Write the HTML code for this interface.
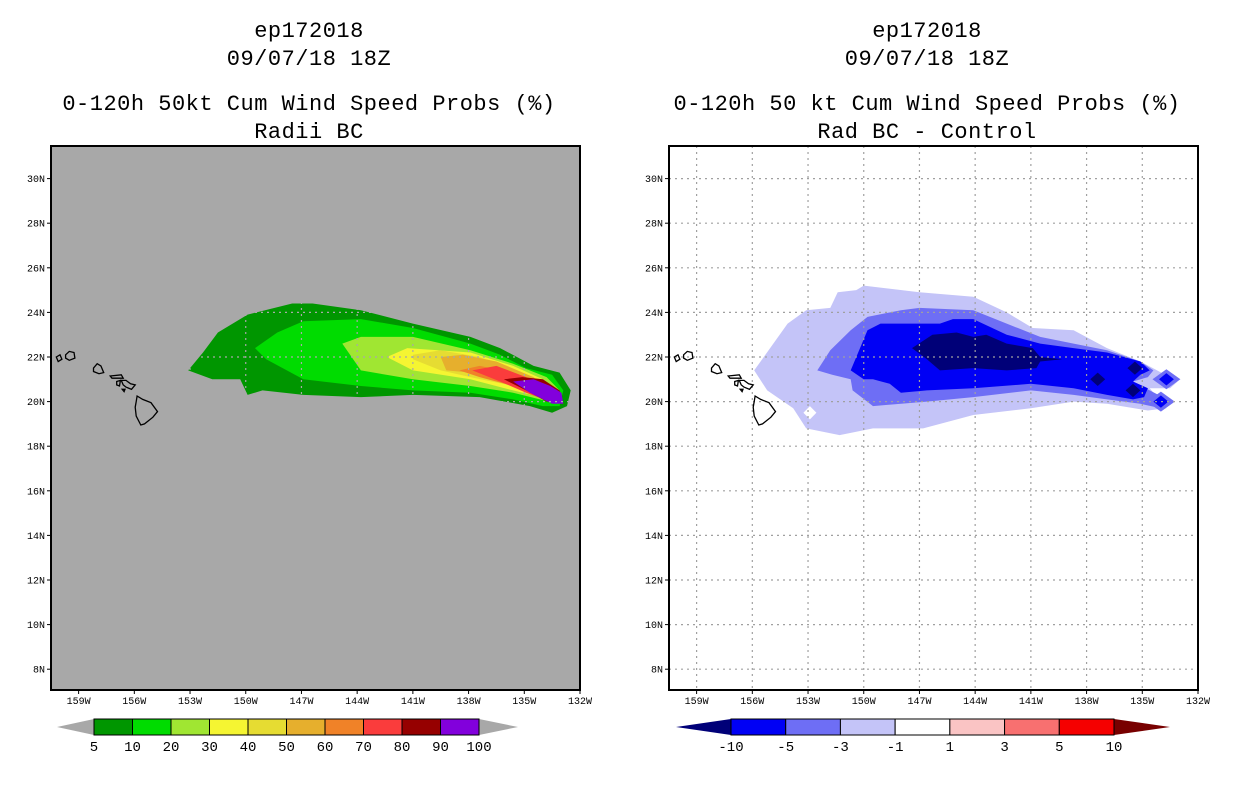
<!DOCTYPE html>
<html><head><meta charset="utf-8"><style>
body{margin:0;background:#fff;width:1236px;height:800px;overflow:hidden}
svg{position:absolute;left:0;top:0}
text{font-family:"Liberation Mono",monospace}
</style></head><body>
<svg id="s" width="1236" height="800" xmlns="http://www.w3.org/2000/svg"></svg>
<script>
// ---- data: contour polygons [lonW, latN] ----
const leftLevels = ["5","10","20","30","40","50","60","70","80","90"];
const leftColors = ["#009600","#00dc00","#a0e632","#f5f532","#e6dc32","#e6af2d","#f08228","#fa3c3c","#960000","#8200dc"];
const left5 = [[153.1,21.4],[152.3,22.2],[151.5,23.1],[149.9,23.9],[147.5,24.4],[146.4,24.4],[143.8,24.1],[141.0,23.5],[137.9,22.9],[136.3,22.4],[134.5,21.6],[133.1,21.3],[132.5,20.5],[132.7,19.8],[133.5,19.5],[134.7,19.8],[137.4,20.2],[141.0,20.3],[143.8,20.2],[146.9,20.3],[149.1,20.5],[149.9,20.3],[150.3,21.0],[151.8,21.0]];
const left10 = [[149.5,22.4],[148.3,23.1],[146.9,23.6],[143.8,23.7],[141.0,23.3],[137.9,22.6],[136.3,22.1],[134.9,21.5],[133.5,21.2],[132.9,20.5],[133.1,19.8],[134.0,19.8],[135.6,20.1],[137.9,20.4],[141.0,20.5],[143.8,20.7],[146.9,21.0],[148.9,21.9]];
const left20 = [[144.8,22.6],[143.8,22.9],[141.0,22.9],[137.9,22.3],[135.6,21.7],[133.8,21.1],[133.1,20.5],[133.2,19.9],[135.6,20.4],[137.9,20.7],[141.0,21.0],[143.8,21.4]];
const left30 = [[142.4,22.0],[141.3,22.4],[137.9,22.2],[135.6,21.6],[134.0,21.0],[133.2,20.4],[133.6,20.1],[135.6,20.5],[137.9,21.0],[141.0,21.4]];
const left40 = [[141.0,22.1],[139.5,22.3],[137.4,22.0],[135.6,21.4],[133.8,20.8],[133.5,20.2],[135.6,20.7],[137.9,21.1],[139.5,21.4],[141.0,21.9]];
const left50 = [[139.5,22.0],[138.3,22.1],[136.5,21.8],[134.5,21.1],[133.6,20.4],[135.6,20.7],[137.9,21.3],[139.2,21.4]];
const left60 = [[138.5,21.4],[137.4,21.6],[135.6,21.3],[134.2,20.8],[133.6,20.2],[135.6,20.7],[137.4,21.1]];
const left70 = [[137.8,21.4],[136.5,21.6],[134.9,21.1],[134.0,20.7],[133.6,20.0],[134.9,20.4],[136.3,20.9]];
const left80 = [[136.1,21.0],[135.1,21.1],[134.0,21.0],[133.1,20.5],[132.9,19.9],[133.8,20.0],[134.9,20.5]];
const left90 = [[135.6,20.9],[134.5,21.0],[133.6,20.7],[133.0,20.4],[132.9,19.9],[133.5,19.9],[134.7,20.4]];

const rightLevels = ["-10","-5","-3","-1","1","3","5","10"];
const rightColors = ["#000078","#0000f5","#6e6ef5","#c4c4f8","#ffffff","#fac4c4","#f87070","#f50000","#780000"];
const rightM1 = [[155.9,21.4],[154.1,23.5],[153.1,24.1],[151.8,24.2],[151.4,24.9],[150.4,25.0],[150.0,25.2],[147.0,24.9],[144.1,24.7],[142.3,24.0],[140.9,23.3],[138.7,23.2],[136.9,22.4],[135.1,21.8],[134.2,21.4],[133.1,20.9],[133.5,20.6],[134.6,20.6],[133.7,19.7],[134.7,19.6],[136.9,19.9],[138.7,20.0],[141.0,19.7],[144.1,19.4],[146.8,18.8],[149.5,18.8],[151.3,18.5],[153.1,18.8],[153.8,19.7],[155.2,20.5]];
const rightM3 = [[152.5,21.4],[151.8,22.3],[150.7,23.2],[149.8,23.8],[148.0,24.1],[147.0,24.2],[144.1,24.1],[142.3,23.5],[140.5,22.9],[138.7,22.6],[136.9,22.3],[135.1,21.8],[134.4,21.4],[134.7,21.1],[135.5,20.9],[134.6,20.5],[133.9,20.2],[133.7,19.9],[134.0,19.7],[135.1,19.9],[136.9,20.1],[138.7,20.3],[141.0,20.5],[144.1,20.2],[146.6,20.0],[149.5,19.8],[150.6,20.5],[150.7,21.0],[151.7,21.2]];
const rightM5 = [[150.7,21.4],[149.8,23.2],[149.1,23.5],[147.0,23.5],[145.9,23.5],[145.2,23.7],[144.1,23.7],[142.3,23.0],[140.5,22.6],[138.7,22.4],[136.9,22.2],[135.1,21.8],[134.6,21.4],[135.1,21.2],[135.5,20.9],[134.7,20.6],[134.9,20.2],[135.5,20.1],[136.9,20.3],[138.7,20.6],[141.0,20.8],[144.1,20.6],[146.6,20.5],[148.0,20.4],[148.6,20.8],[149.5,21.0],[150.0,21.0]];
const rightM10 = [[147.4,22.4],[146.3,23.0],[145.0,23.1],[144.1,22.9],[143.4,23.0],[142.3,22.6],[140.9,22.4],[140.5,22.0],[139.3,21.9],[140.5,21.8],[140.7,21.5],[142.3,21.4],[144.1,21.5],[145.9,21.4],[146.6,21.9]];
const rightM5Spots = [[133.7,21.0],[134.0,20.0]];
const rightM10Spots = [[135.4,21.5],[137.4,21.0],[135.5,20.5]];
const rightHole = [[152.9,19.5]];

const islands = [
 [[160.2,22.0],[160.0,22.1],[159.9,21.9],[160.1,21.8]],
 [[159.7,22.1],[159.5,22.25],[159.25,22.2],[159.2,21.95],[159.5,21.85],[159.7,21.95]],
 [[158.2,21.5],[158.0,21.7],[157.8,21.6],[157.65,21.3],[157.9,21.25],[158.2,21.35]],
 [[157.3,21.15],[156.7,21.2],[156.6,21.05],[157.2,21.05]],
 [[156.95,20.9],[156.75,20.95],[156.8,20.7],[156.95,20.75]],
 [[156.7,20.95],[156.45,20.95],[156.2,20.8],[155.95,20.75],[156.15,20.55],[156.45,20.65],[156.6,20.75]],
 [[156.65,20.55],[156.5,20.55],[156.55,20.45]],
 [[155.85,20.25],[155.55,20.1],[155.1,19.95],[154.75,19.55],[155.0,19.3],[155.45,19.0],[155.65,18.95],[155.9,19.35],[155.95,19.75],[155.9,20.0]]
];
const lonTicks = [159,156,153,150,147,144,141,138,135,132];
const latTicks = [8,10,12,14,16,18,20,22,24,26,28,30];

const S = document.getElementById('s');
const NS = 'http://www.w3.org/2000/svg';
function el(tag, attrs, parent){const e=document.createElementNS(NS,tag);for(const k in attrs)e.setAttribute(k,attrs[k]);(parent||S).appendChild(e);return e;}
const X0=51, X1=580, Y0=146, Y1=690;
function xs(lon,off){return 580-(lon-132)*18.57+off;}
function ys(lat){return 357-(lat-22)*22.3;}
function pts(poly,off){return poly.map(p=>xs(p[0],off).toFixed(1)+','+ys(p[1]).toFixed(1)).join(' ');}
function diamond(c,off,w,h){return [[c[0]+w,c[1]],[c[0],c[1]+h],[c[0]-w,c[1]],[c[0],c[1]-h]];}

function panel(off,bg,name){
  const g=el('g',{});
  
  
  const bgr=el('rect',{x:X0+off,y:Y0,width:X1-X0,height:Y1-Y0,fill:bg},g);
  
  
  return g;
}
function fill(g,poly,off,color,name){
  const p=el('polygon',{points:pts(poly,off),fill:color},g);
  
  
}
function frame(g,off,gridColor){
  lonTicks.forEach(l=>{const x=xs(l,off); if(x<X1+off-2){const ln=el('line',{x1:x,y1:Y0,x2:x,y2:Y1,stroke:gridColor,'stroke-width':1.2,'stroke-dasharray':'2,4'},g);
    
    }});
  latTicks.forEach(l=>{const y=ys(l);const ln=el('line',{x1:X0+off,y1:y,x2:X1+off,y2:y,stroke:gridColor,'stroke-width':1.2,'stroke-dasharray':'2,4'},g);
    
    });
  islands.forEach(is=>{const p=el('polygon',{points:pts(is,off),fill:'none',stroke:'#000','stroke-width':1.3},g);
    
    });
  const b=el('rect',{x:X0+off,y:Y0,width:X1-X0,height:Y1-Y0,fill:'none',stroke:'#000','stroke-width':2},g);
  
  
  lonTicks.forEach(l=>{const x=xs(l,off);
    el('line',{x1:x,y1:Y1,x2:x,y2:Y1+4,stroke:'#000'},g);
    const t=el('text',{x:x,y:Y1+14,'font-size':10,'text-anchor':'middle','font-family':'Liberation Sans, sans-serif'},g);
    t.textContent=l+'W';
    
    });
  latTicks.forEach(l=>{const y=ys(l);
    el('line',{x1:X0+off-4,y1:y,x2:X0+off,y2:y,stroke:'#000'},g);
    const t=el('text',{x:X0+off-6,y:y+3.5,'font-size':10,'text-anchor':'end','font-family':'Liberation Sans, sans-serif'},g);
    t.textContent=l+'N';
    
    });
}
function titles(cx,lines,name){
  const ys_=[37,65,110,138];
  lines.forEach((s,i)=>{const t=el('text',{x:cx,y:ys_[i],'font-size':22,'text-anchor':'middle','letter-spacing':'0.5'});
    t.textContent=s;
    
    });
}
function colorbar(x0,x1,tipL,tipR,colors,labels,tipColL,tipColR,name){
  const g=el('g',{});
  
  
  const y0=719,y1=735,ym=727,n=colors.length,w=(x1-x0)/n;
  const a=el('polygon',{points:`${tipL},${ym} ${x0},${y0} ${x0},${y1}`,fill:tipColL},g);
  
  
  const b=el('polygon',{points:`${tipR},${ym} ${x1},${y0} ${x1},${y1}`,fill:tipColR},g);
  
  
  colors.forEach((c,i)=>{const r=el('rect',{x:x0+i*w,y:y0,width:w,height:y1-y0,fill:c,stroke:'#000','stroke-width':1},g);
    
    });
  labels.forEach((l,i)=>{const t=el('text',{x:x0+i*w,y:751,'font-size':14,'text-anchor':'middle','font-family':'Liberation Sans, sans-serif'},g);
    t.textContent=l;
    
    });
}

// left panel
const gl=panel(0,'#a8a8a8','left-map-panel');
[left5,left10,left20,left30,left40,left50,left60,left70,left80,left90].forEach((p,i)=>fill(gl,p,0,leftColors[i],'prob-contour-'+leftLevels[i]));
frame(gl,0,'#a8a8a8');
titles(309,['ep172018','09/07/18 18Z','0-120h 50kt Cum Wind Speed Probs (%)','Radii BC'],'left-title');
// right panel
const R=618;
const gr=panel(R,'#ffffff','right-map-panel');
fill(gr,rightM1,R,rightColors[3],'diff-contour-minus1');
rightHole.forEach(c=>fill(gr,diamond(c,R,0.35,0.3),R,'#ffffff','diff-hole'));
fill(gr,rightM3,R,rightColors[2],'diff-contour-minus3');
fill(gr,rightM5,R,rightColors[1],'diff-contour-minus5');
rightM5Spots.forEach(c=>{fill(gr,diamond(c,R,0.75,0.45),R,rightColors[2],'diff-spot-minus3');fill(gr,diamond(c,R,0.4,0.28),R,rightColors[1],'diff-spot-minus5');});
fill(gr,rightM10,R,rightColors[0],'diff-contour-minus10');
rightM10Spots.forEach(c=>fill(gr,diamond(c,R,0.4,0.3),R,rightColors[0],'diff-spot-minus10'));
frame(gr,R,'#a0a0a0');
titles(927,['ep172018','09/07/18 18Z','0-120h 50 kt Cum Wind Speed Probs (%)','Rad BC - Control'],'right-title');

colorbar(94,479,57,518,leftColors,["5","10","20","30","40","50","60","70","80","90","100"],'#a8a8a8','#a8a8a8','left-colorbar');
colorbar(731,1114,676,1170,rightColors.slice(1,8),rightLevels,rightColors[0],rightColors[8],'right-colorbar');
</script>
</body></html>
